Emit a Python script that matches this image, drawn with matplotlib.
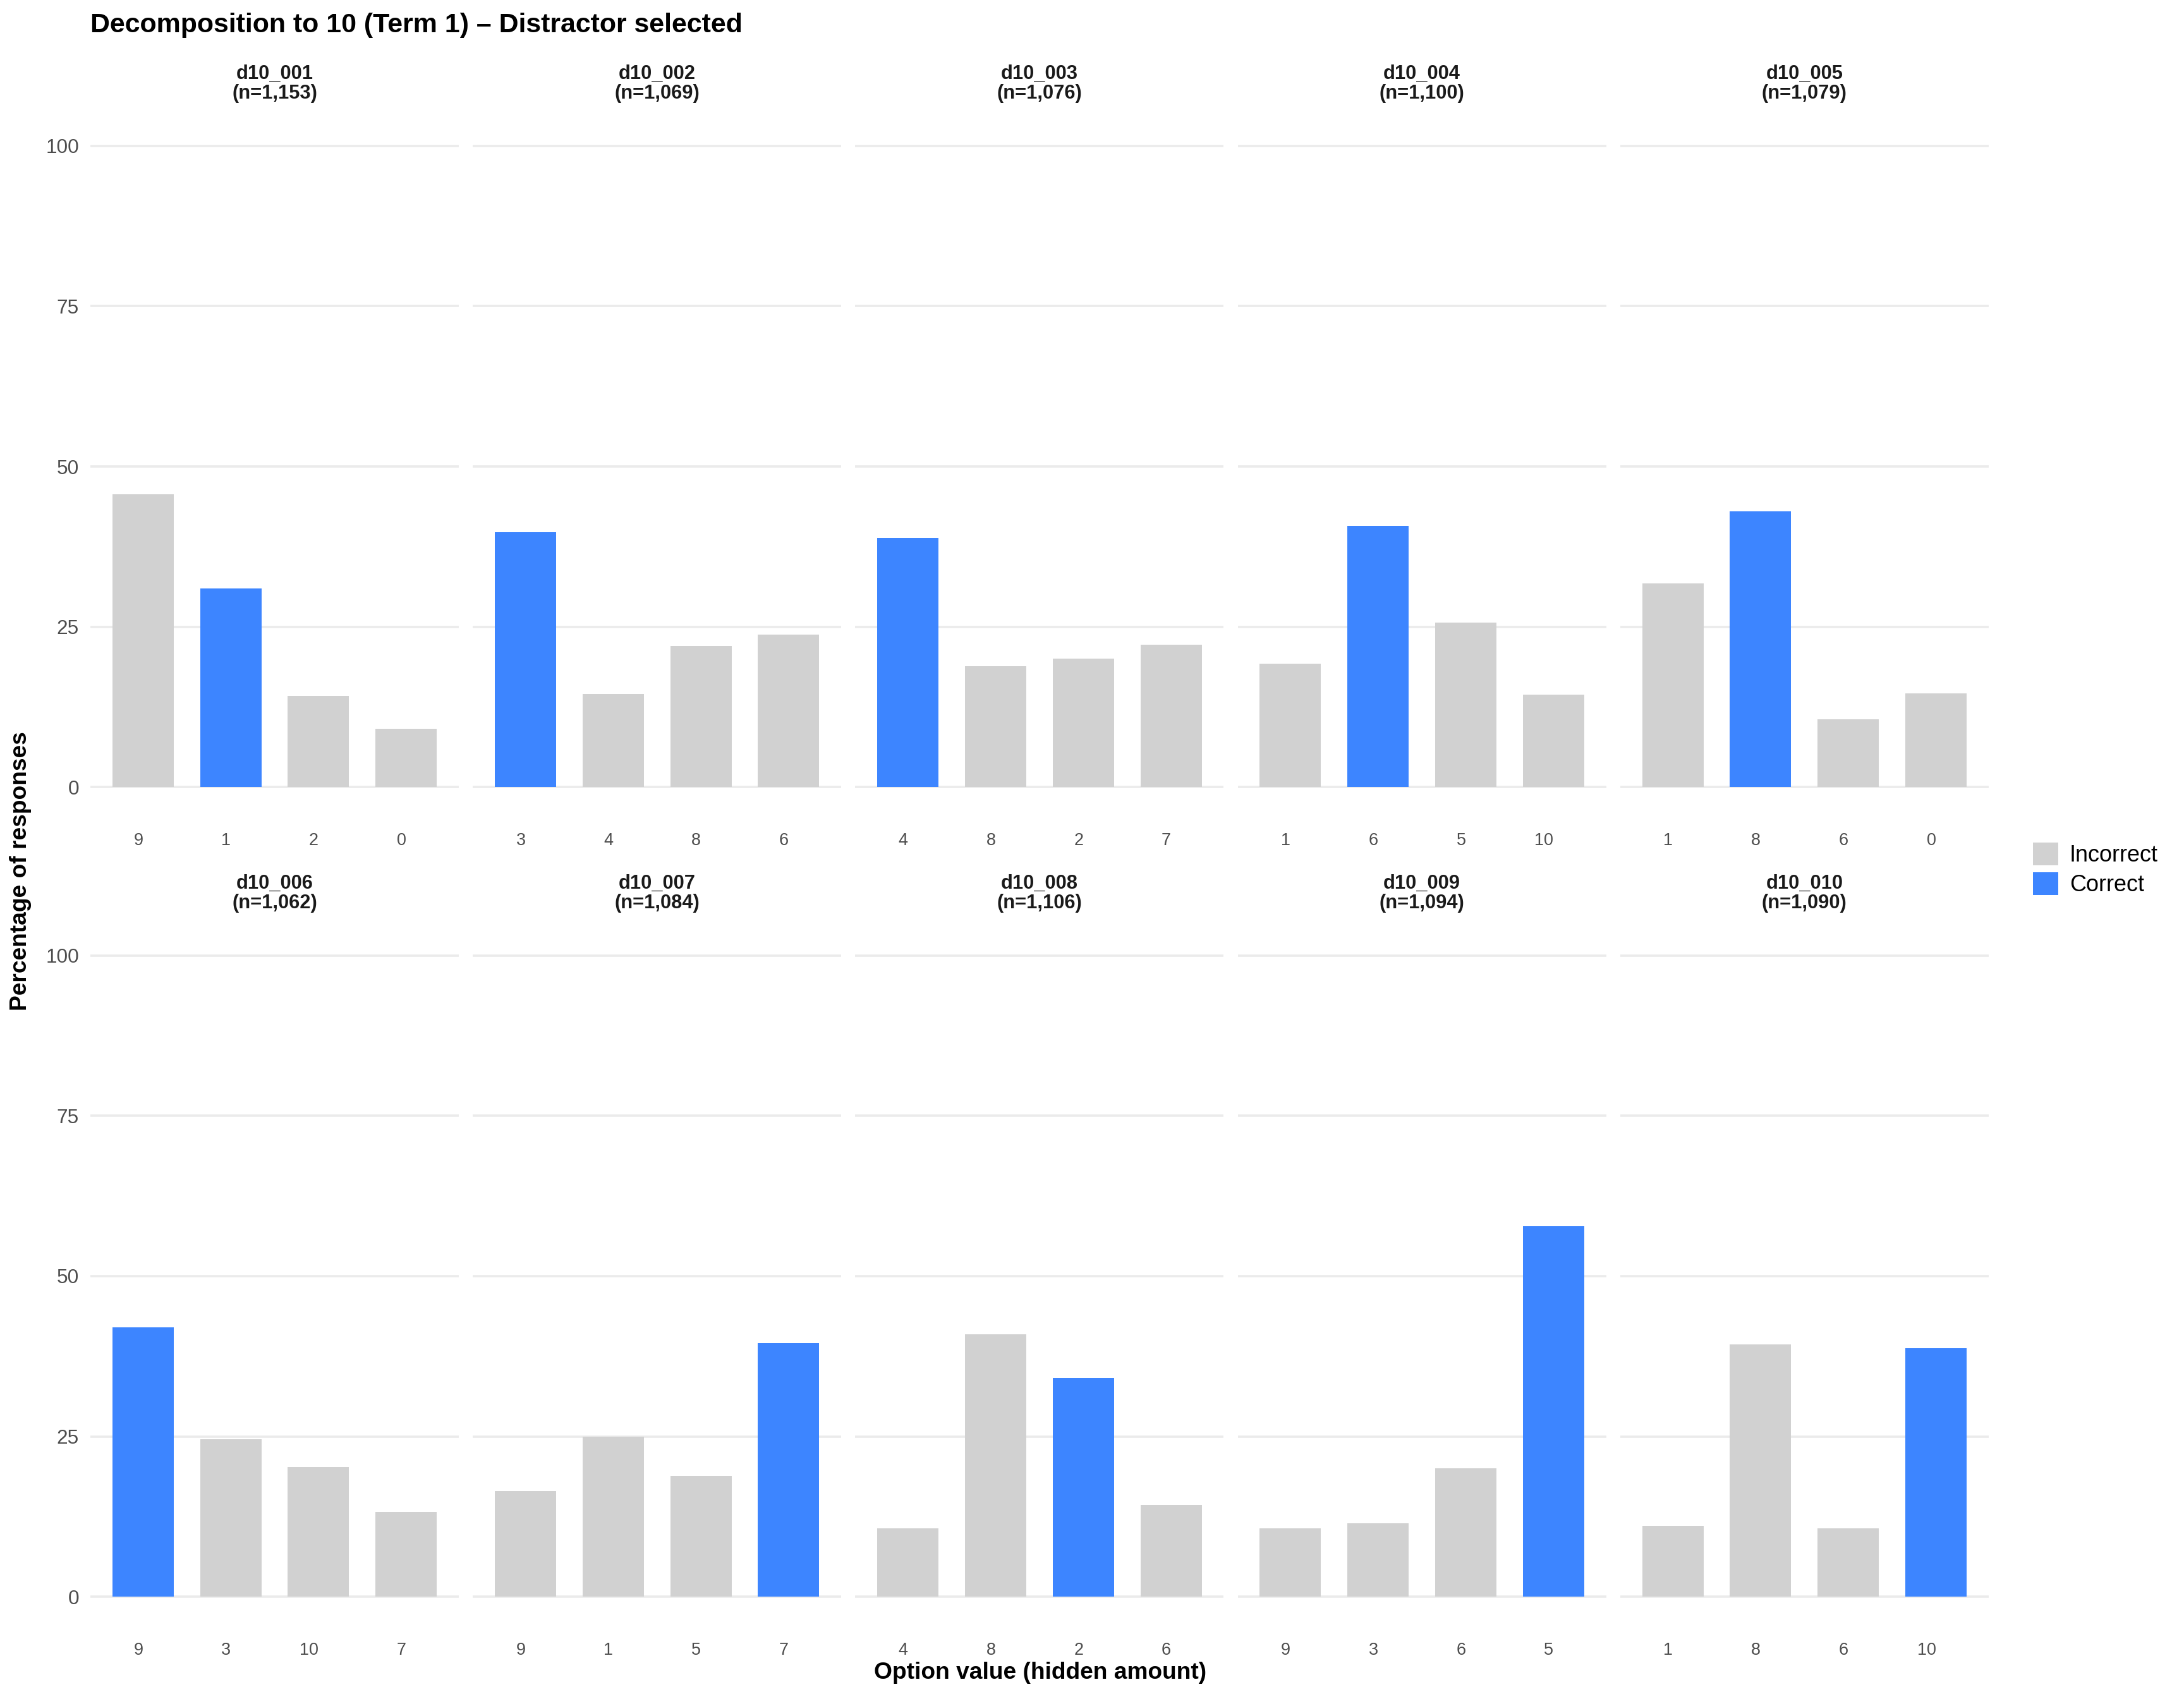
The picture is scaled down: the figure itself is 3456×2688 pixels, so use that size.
import matplotlib
matplotlib.use('Agg')
import matplotlib.pyplot as plt
from matplotlib.patches import Patch

plt.rcParams['font.family'] = ['Liberation Sans', 'DejaVu Sans']

# item ids and number of responses
items = ['d10_001', 'd10_002', 'd10_003', 'd10_004', 'd10_005',
         'd10_006', 'd10_007', 'd10_008', 'd10_009', 'd10_010']
n_resp = [1153, 1069, 1076, 1100, 1079, 1062, 1084, 1106, 1094, 1090]

# answer options in display order
options = [[9, 1, 2, 0], [3, 4, 8, 6], [4, 8, 2, 7], [1, 6, 5, 10], [1, 8, 6, 0],
           [9, 3, 10, 7], [9, 1, 5, 7], [4, 8, 2, 6], [9, 3, 6, 5], [1, 8, 6, 10]]

# percentage of responses per option
pcts = [[45.7, 31.0, 14.2, 9.1],
        [39.7, 14.5, 22.0, 23.8],
        [38.9, 18.9, 20.0, 22.2],
        [19.2, 40.7, 25.7, 14.4],
        [31.8, 43.0, 10.6, 14.6],
        [42.0, 24.6, 20.2, 13.2],
        [16.5, 25.0, 18.9, 39.6],
        [10.7, 40.9, 34.1, 14.3],
        [10.7, 11.5, 20.0, 57.8],
        [11.1, 39.4, 10.7, 38.8]]

# correct option value for each item
correct = [1, 3, 4, 6, 8, 9, 7, 2, 5, 10]

col_incorrect = '#D1D1D1'
col_correct = '#3D85FF'
grid_col = '#EBEBEB'
tick_col = '#4D4D4D'

W, H = 3456, 2688
dpi = 216
fig = plt.figure(figsize=(W / dpi, H / dpi), dpi=dpi)

left0 = 143 / W
pw = 583 / W
step = 605.2 / W
row_top = [180, 1461]
ph = 1116 / H
strip_y = [132, 1413]

for i, item in enumerate(items):
    r, c = divmod(i, 5)
    bottom = 1 - (row_top[r] / H) - ph
    ax = fig.add_axes([left0 + c * step, bottom, pw, ph])
    xs = list(range(len(options[i])))
    cols = [col_correct if v == correct[i] else col_incorrect for v in options[i]]
    ax.bar(xs, pcts[i], width=0.7, color=cols, zorder=2)
    ax.set_xlim(-0.6, 3.6)
    ax.set_ylim(-5, 105)
    ax.set_yticks([0, 25, 50, 75, 100])
    ax.grid(axis='y', color=grid_col, linewidth=1.2, zorder=0)
    ax.set_xticks(xs)
    ax.set_xticklabels([str(v) for v in options[i]], ha='right')
    ax.tick_params(axis='x', length=0, pad=7, labelsize=9, labelcolor=tick_col)
    ax.tick_params(axis='y', length=0, pad=6, labelsize=10.5, labelcolor=tick_col)
    if c != 0:
        ax.set_yticklabels([])
    for s in ax.spines.values():
        s.set_visible(False)
    ax.set_facecolor('none')
    fig.text(left0 + c * step + pw / 2, 1 - strip_y[r] / H,
             f'{item}\n(n={n_resp[i]:,})', ha='center', va='center',
             fontsize=10.3, fontweight='bold', linespacing=1.05, color='#1A1A1A')

fig.text(143 / W, 1 - 40 / H, 'Decomposition to 10 (Term 1) \u2013 Distractor selected',
         ha='left', va='center', fontsize=14.3, fontweight='bold')
fig.text(33 / W, 1 - 1378 / H, 'Percentage of responses', rotation=90,
         ha='center', va='center', fontsize=12.4, fontweight='bold')
fig.text(1646 / W, 1 - 2647 / H, 'Option value (hidden amount)',
         ha='center', va='center', fontsize=12.4, fontweight='bold')

handles = [Patch(color=col_incorrect, label='Incorrect'),
           Patch(color=col_correct, label='Correct')]
fig.legend(handles=handles, loc='center left', bbox_to_anchor=(3218 / W, 1 - 1376 / H),
           frameon=False, fontsize=12, handlelength=1.03, handleheight=1.03,
           handletextpad=0.55, labelspacing=0.3, borderpad=0, borderaxespad=0)

fig.savefig('out.png', dpi=dpi, facecolor='white')
